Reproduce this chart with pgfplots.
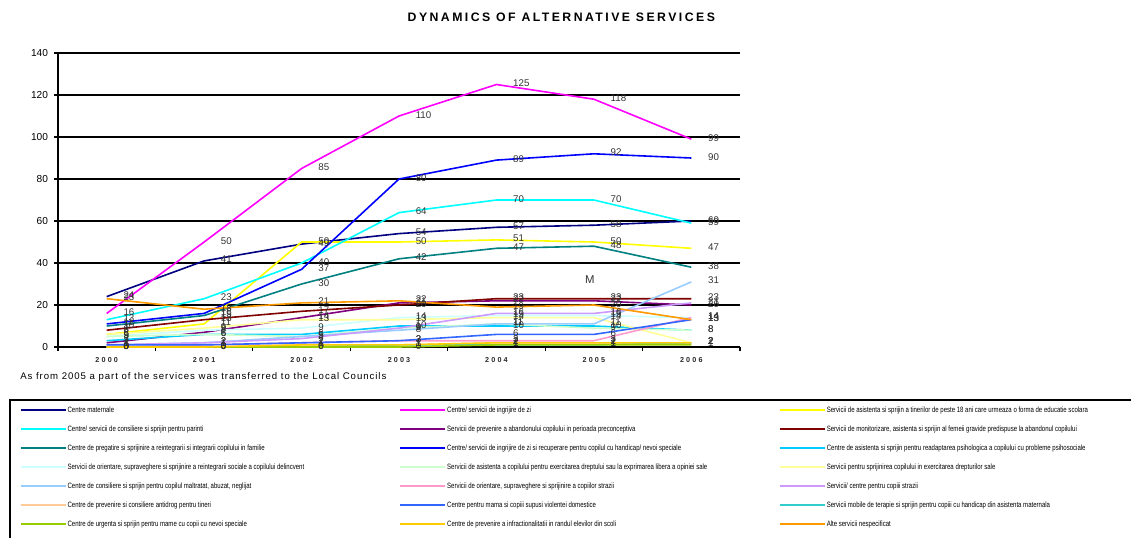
\documentclass[border=0pt]{standalone}
\usepackage{pgfplots}
\pgfplotsset{compat=1.18}
\usepackage{pgfplotstable}
\usepackage{fontspec}
\usepackage{graphicx}
\setmainfont{Liberation Sans}
\newfontfamily\titlefont[LetterSpace=20]{Liberation Sans}
\newfontfamily\yearfont[LetterSpace=30]{Liberation Sans}
\newfontfamily\notefont[LetterSpace=10]{Liberation Sans}

\definecolor{c1}{HTML}{000080}
\definecolor{c2}{HTML}{FF00FF}
\definecolor{c3}{HTML}{FFFF00}
\definecolor{c4}{HTML}{00FFFF}
\definecolor{c5}{HTML}{800080}
\definecolor{c6}{HTML}{800000}
\definecolor{c7}{HTML}{008080}
\definecolor{c8}{HTML}{0000FF}
\definecolor{c9}{HTML}{00CCFF}
\definecolor{c10}{HTML}{CCFFFF}
\definecolor{c11}{HTML}{CCFFCC}
\definecolor{c12}{HTML}{FFFF99}
\definecolor{c13}{HTML}{99CCFF}
\definecolor{c14}{HTML}{FF99CC}
\definecolor{c15}{HTML}{CC99FF}
\definecolor{c16}{HTML}{FFCC99}
\definecolor{c17}{HTML}{3366FF}
\definecolor{c18}{HTML}{33CCCC}
\definecolor{c19}{HTML}{99CC00}
\definecolor{c20}{HTML}{FFCC00}
\definecolor{c21}{HTML}{FF9900}

\newcommand{\legtxt}[1]{\makebox[249.75pt][l]{\hspace{0.75pt}\scalebox{0.78}[1]{#1}}}

\pgfplotstableread{
x s1 s2 s3 s4 s5 s6 s7 s8 s9 s10 s11 s12 s13 s14 s15 s16 s17 s18 s19 s20 s21
0 24 16 6 13 2 8 10 11 3 5 5 6 1 0 1 0 1 0 0 0 23
1 41 50 11 23 7 13 15 16 6 8 6 9 2 1 2 0 1 0 0 0 18
2 49 85 50 40 14 17 30 37 6 9 5 13 5 2 4 1 2 0 0 1 21
3 54 110 50 64 21 20 42 80 10 14 9 13 8 3 9 1 3 1 0 1 22
4 57 125 51 70 22 23 47 89 10 15 11 14 11 3 16 2 6 1 1 2 19
5 58 118 50 70 22 23 48 92 10 15 9 14 11 3 16 2 6 1 1 2 20
6 60 99 47 59 20 23 38 90 8 14 8 2 31 14 21 2 13 2 1 2 13
}\data

\begin{document}
\begin{tikzpicture}
\node[font=\titlefont\bfseries\fontsize{9.2}{10}\selectfont] at (421pt,390pt) {DYNAMICS OF ALTERNATIVE SERVICES};
\begin{axis}[
 at={(43.5pt,142.5pt)}, anchor=south west,
 scale only axis, width=511.5pt, height=220.5pt,
 xmin=-0.5, xmax=6.5, ymin=0, ymax=140,
 axis x line*=bottom, axis y line*=left,
 axis line style={-, black, line width=1.1pt},
 ytick={0,20,...,140},
 ymajorgrids, grid style={black, line width=1.1pt},
 xtick={-0.5,0.5,...,6.5}, xticklabels={},
 extra x ticks={0,1,2,3,4,5,6},
 extra x tick labels={2000,2001,2002,2003,2004,2005,2006},
 extra x tick style={major tick length=0pt},
 tick align=outside, major tick length=3pt,
 tick style={black, line width=0.8pt},
 /pgf/number format/assume math mode=true,
 yticklabel style={font=\fontsize{7.6}{8}\selectfont, xshift=-1pt},
 xticklabel style={font=\yearfont\bfseries\fontsize{5.4}{6}\selectfont, yshift=-4pt, text=black!85},
 clip=false,
 nodes near coords,
 nodes near coords style={anchor=west, xshift=12pt, yshift=1pt, inner sep=0pt, font=\fontsize{7.3}{8}\selectfont, text=black!80},
 every axis plot/.append style={line width=1.2pt, mark=none},
 legend columns=3,
 legend style={at={(axis description cs:-0.05572,-0.2007)}, anchor=north west, draw=none, fill=none, inner sep=0pt, outer sep=0pt, column sep=0pt, row sep=8.55pt, font=\fontsize{5.8}{6}\selectfont, nodes={inner sep=0pt, text height=4.5pt, text depth=1.2pt}, cells={anchor=west}},
 legend image code/.code={\draw[#1] (0pt,0pt) -- (33.75pt,0pt);},
]
\addplot[c1] table[x=x,y=s1]{\data};
\addlegendentry{\legtxt{Centre maternale}}
\addplot[c2] table[x=x,y=s2]{\data};
\addlegendentry{\legtxt{Centre/ servicii de ingrijire de zi}}
\addplot[c3] table[x=x,y=s3]{\data};
\addlegendentry{\legtxt{Servicii de asistenta si sprijin a tinerilor de peste 18 ani care urmeaza o forma de educatie scolara}}
\addplot[c4] table[x=x,y=s4]{\data};
\addlegendentry{\legtxt{Centre/ servicii de consiliere si sprijin pentru parinti}}
\addplot[c5] table[x=x,y=s5]{\data};
\addlegendentry{\legtxt{Servicii de prevenire a abandonului copilului in perioada preconceptiva}}
\addplot[c6] table[x=x,y=s6]{\data};
\addlegendentry{\legtxt{Servicii de monitorizare, asistenta si sprijin al femeii gravide predispuse la abandonul copilului}}
\addplot[c7] table[x=x,y=s7]{\data};
\addlegendentry{\legtxt{Centre de pregatire si sprijinire a reintegrarii si integrarii copilului in familie}}
\addplot[c8] table[x=x,y=s8]{\data};
\addlegendentry{\legtxt{Centre/ servicii de ingrijire de zi si recuperare pentru copilul cu handicap/ nevoi speciale}}
\addplot[c9] table[x=x,y=s9]{\data};
\addlegendentry{\legtxt{Centre de asistenta si sprijin pentru readaptarea psihologica a copilului cu probleme psihosociale}}
\addplot[c10] table[x=x,y=s10]{\data};
\addlegendentry{\legtxt{Servicii de orientare, supraveghere si sprijinire a reintegrarii sociale a copilului delincvent}}
\addplot[c11] table[x=x,y=s11]{\data};
\addlegendentry{\legtxt{Servicii de asistenta a copilului pentru exercitarea dreptului sau la exprimarea libera a opiniei sale}}
\addplot[c12] table[x=x,y=s12]{\data};
\addlegendentry{\legtxt{Servicii pentru sprijinirea copilului in exercitarea drepturilor sale}}
\addplot[c13] table[x=x,y=s13]{\data};
\addlegendentry{\legtxt{Centre de consiliere si sprijin pentru copilul maltratat, abuzat, neglijat}}
\addplot[c14] table[x=x,y=s14]{\data};
\addlegendentry{\legtxt{Servicii de orientare, supraveghere si sprijinire a copiilor strazii}}
\addplot[c15] table[x=x,y=s15]{\data};
\addlegendentry{\legtxt{Servicii/ centre pentru copiii strazii}}
\addplot[c16] table[x=x,y=s16]{\data};
\addlegendentry{\legtxt{Centre de prevenire si consiliere antidrog pentru tineri}}
\addplot[c17] table[x=x,y=s17]{\data};
\addlegendentry{\legtxt{Centre pentru mama si copiii supusi violentei domestice}}
\addplot[c18] table[x=x,y=s18]{\data};
\addlegendentry{\legtxt{Servicii mobile de terapie si sprijin pentru copiii cu handicap din asistenta maternala}}
\addplot[c19] table[x=x,y=s19]{\data};
\addlegendentry{\legtxt{Centre de urgenta si sprijin pentru mame cu copii cu nevoi speciale}}
\addplot[c20] table[x=x,y=s20]{\data};
\addlegendentry{\legtxt{Centre de prevenire a infractionalitatii in randul elevilor din scoli}}
\addplot[c21] table[x=x,y=s21]{\data};
\addlegendentry{\legtxt{Alte servicii nespecificat}}
\node[font=\fontsize{8.5}{9}\selectfont, text=black!80] at (axis cs:4.96,32) {M};
\end{axis}
\node[anchor=west, inner sep=0pt, font=\notefont\fontsize{7.2}{8}\selectfont] at (15pt,120pt) {As from 2005 a part of the services was transferred to the Local Councils};
\draw[line width=0.9pt] (7.5pt,-5pt) rectangle (860pt,102.75pt);
\pgfresetboundingbox
\path[use as bounding box] (0pt,0pt) rectangle (848.25pt,402.75pt);
\end{tikzpicture}
\end{document}
